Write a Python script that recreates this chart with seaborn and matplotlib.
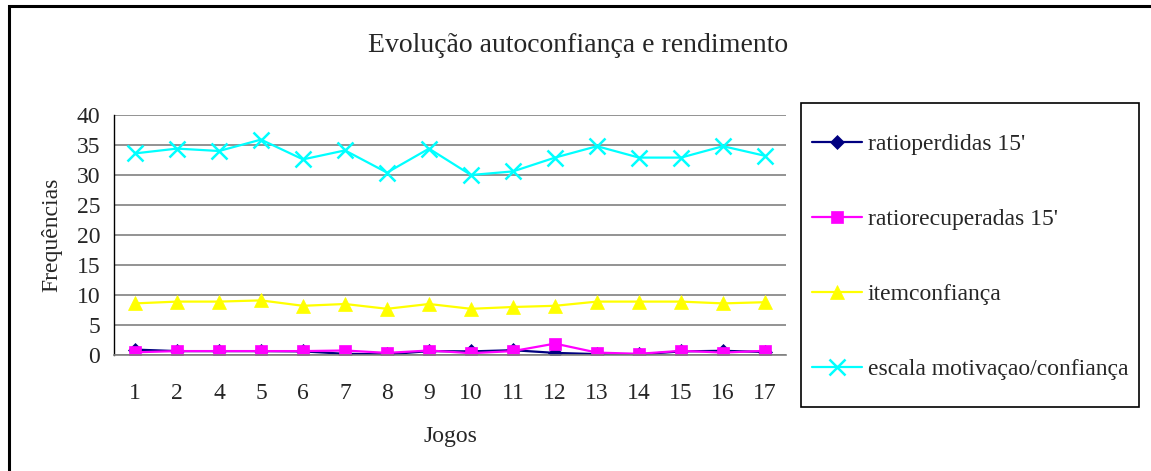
import numpy as np
import pandas as pd
import matplotlib
matplotlib.use("Agg")
import matplotlib.pyplot as plt
from matplotlib.lines import Line2D
from matplotlib.patches import Rectangle
import seaborn as sns

jogos = ["1", "2", "4", "5", "6", "7", "8", "9", "10", "11", "12", "13", "14", "15", "16", "17"]
ratioperdidas = [0.9, 0.65, 0.65, 0.65, 0.6, 0.2, 0.1, 0.65, 0.6, 0.8, 0.35, 0.15, 0.1, 0.6, 0.7, 0.5]
ratiorecuperadas = [0.45, 0.65, 0.65, 0.65, 0.65, 0.75, 0.35, 0.75, 0.3, 0.65, 1.9, 0.4, 0.2, 0.7, 0.4, 0.7]
itemconfianca = [8.6, 8.9, 8.9, 9.1, 8.2, 8.5, 7.7, 8.5, 7.7, 8.0, 8.2, 8.9, 8.9, 8.9, 8.6, 8.8]
escala = [33.6, 34.4, 34.0, 35.9, 32.6, 34.1, 30.4, 34.4, 30.0, 30.6, 32.9, 34.8, 32.9, 32.9, 34.8, 33.2]

series = ["ratioperdidas 15'", "ratiorecuperadas 15'", "itemconfiança", "escala motivaçao/confiança"]
values = [ratioperdidas, ratiorecuperadas, itemconfianca, escala]
colors = ["#000080", "#FF00FF", "#FFFF00", "#00FFFF"]
markers = ["D", "s", "^", "x"]
msizes = [7, 9, 10, 11]

sns.set_theme(style="white")
plt.rcParams["font.family"] = ["Liberation Serif", "DejaVu Serif"]

W, H = 1151, 471
fig = plt.figure(figsize=(W / 100, H / 100), dpi=100)
ax = fig.add_axes([114 / W, 1 - 355 / H, (786 - 114) / W, (355 - 115) / H])

pos = np.arange(len(jogos))
for name, vals, c, m, ms in zip(series, values, colors, markers, msizes):
    df = pd.DataFrame({"pos": pos, "v": vals})
    sns.lineplot(data=df, x="pos", y="v", ax=ax, color=c, marker=m, markersize=ms,
                 linewidth=1.6, markeredgecolor=c, markeredgewidth=1.8 if m == "x" else 0.5,
                 label=name, legend=False)

ax.set_xlim(-0.5, len(jogos) - 0.5)
ax.set_ylim(0, 40)
ax.set_yticks(range(0, 41, 5))
ax.set_yticklabels([str(v) for v in range(0, 41, 5)], fontsize=17)
ax.set_xticks(pos)
ax.set_xticklabels(jogos, fontsize=17)
ax.set_xticks(np.arange(-0.5, len(jogos)), minor=True)
ax.tick_params(axis="x", which="major", length=0, pad=20)
ax.tick_params(axis="x", which="minor", length=7, width=1, color="#808080", direction="out")
ax.tick_params(axis="y", which="major", length=7, width=1, color="#808080", direction="out", pad=3)
ax.yaxis.grid(True, color="#808080", linewidth=1.2)
ax.set_axisbelow(True)
for s in ["top", "right"]:
    ax.spines[s].set_visible(False)
ax.spines["left"].set_color("black")
ax.spines["left"].set_linewidth(1)
ax.spines["bottom"].set_color("#808080")
ax.spines["bottom"].set_linewidth(1.2)
ax.set_xlabel("Jogos", fontsize=17, labelpad=16)
ax.set_ylabel("Frequências", fontsize=17, labelpad=10)

fig.text(578 / W, 1 - 46 / H, "Evolução autoconfiança e rendimento", ha="center", va="center", fontsize=20)

# outer frame: only left and top edges are visible in the source
fig.lines.append(Line2D([9 / W, 9 / W, 1.0], [0.0, 1 - 6 / H, 1 - 6 / H], transform=fig.transFigure,
                        color="black", linewidth=2.2, solid_joinstyle="miter"))
fig.patches.append(Rectangle((801 / W, 1 - 407 / H), (1139 - 801) / W, (407 - 103) / H,
                             transform=fig.transFigure, fill=False, edgecolor="black", linewidth=1.2))

handles, labels = ax.get_legend_handles_labels()
fig.legend(handles, labels, loc="center left", bbox_to_anchor=(803 / W, 1 - 257 / H),
           frameon=False, fontsize=17, labelspacing=2.26, handlelength=2.1, handletextpad=0.25,
           borderaxespad=0)

fig.savefig("out.png", dpi=100)
